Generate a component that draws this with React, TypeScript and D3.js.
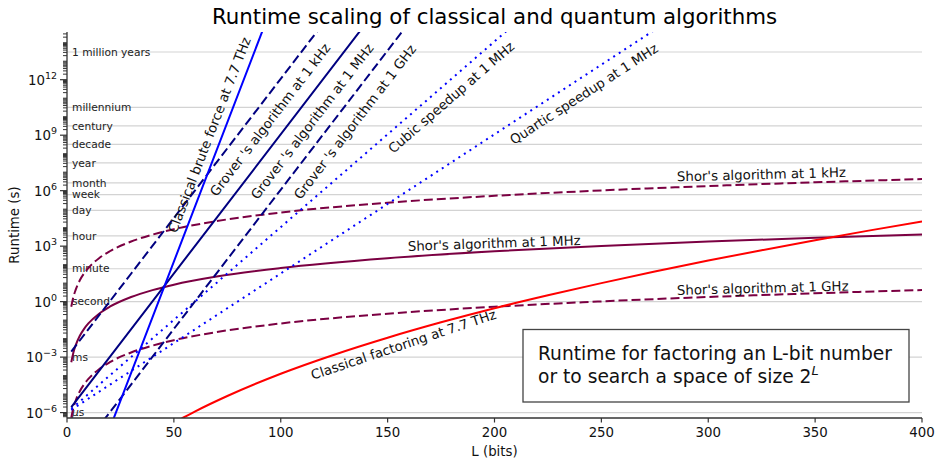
import React from "react";
import * as d3 from "d3";

const width = 937;
const height = 462;
const margin = { top: 32, right: 15, bottom: 44, left: 67 };
const font = "'DejaVu Sans', sans-serif";

// Shor's algorithm (runtime in seconds vs L bits)
const shorBits = [2, 3, 4, 6, 8, 10, 15, 20, 30, 40, 50, 70, 100, 150, 200, 250, 300, 350, 400];
const shorKHz = [0.53, 1.8, 4.2, 14.3, 33.8, 66, 223, 530, 1780, 4200, 8250, 22600, 66000, 223000, 528000, 1.03e6, 1.78e6, 2.83e6, 4.22e6];
const shorMHz = [5.3e-4, 1.8e-3, 4.2e-3, 1.43e-2, 3.38e-2, 6.6e-2, 0.223, 0.53, 1.78, 4.2, 8.25, 22.6, 66, 223, 528, 1030, 1780, 2830, 4220];
const shorGHz = [5.3e-7, 1.8e-6, 4.2e-6, 1.43e-5, 3.38e-5, 6.6e-5, 2.23e-4, 5.3e-4, 1.78e-3, 4.2e-3, 8.25e-3, 2.26e-2, 6.6e-2, 0.223, 0.528, 1.03, 1.78, 2.83, 4.22];

// classical factoring
const factoringBits = [52, 55, 60, 75, 100, 125, 150, 175, 200, 225, 250, 275, 300, 325, 350, 375, 400];
const factoringTHz = [3.7e-7, 5.8e-7, 1.17e-6, 7.9e-6, 1.26e-4, 1.35e-3, 1.12e-2, 7.6e-2, 0.44, 2.19, 10, 42.7, 166, 603, 2090, 6900, 21900];

// search (straight on a log axis)
const bruteBits = [20, 60, 100];
const bruteTHz = [1.36e-7, 1.5e5, 1.65e17];
const groverKHzBits = [2, 60, 120];
const groverKHz = [2e-3, 1.07e6, 1.15e15];
const groverMHzBits = [2, 70, 140];
const groverMHz = [2e-6, 3.4e4, 1.18e15];
const groverGHzBits = [2, 80, 160];
const groverGHz = [2e-9, 1.1e3, 1.21e15];
const cubicBits = [2, 105, 210];
const cubicMHz = [1.59e-6, 3.4e4, 1.18e15];
const quarticBits = [2, 140, 280];
const quarticMHz = [1.41e-6, 3.4e4, 1.18e15];

const timeLabels = ["µs", "ms", "second", "minute", "hour", "day", "week", "month", "year", "decade", "century", "millennium", "1 million years"];
const timeValues = [1e-6, 1e-3, 1, 60, 3600, 86400, 604800, 2.63e6, 3.156e7, 3.156e8, 3.156e9, 3.156e10, 3.156e13];

const xTicks = [0, 50, 100, 150, 200, 250, 300, 350, 400];
const yTickExponents = [-6, -3, 0, 3, 6, 9, 12];

const SHOR = "#7b0042";
const NAVY = "#000080";
const BLUE = "#0000ff";
const RED = "#ff0000";
const DASH = "9,4";
const DOT = "2,4.6";

const series = [
  { bits: shorBits, vals: shorKHz, color: SHOR, dash: DASH },
  { bits: shorBits, vals: shorMHz, color: SHOR, dash: null },
  { bits: shorBits, vals: shorGHz, color: SHOR, dash: DASH },
  { bits: factoringBits, vals: factoringTHz, color: RED, dash: null },
  { bits: cubicBits, vals: cubicMHz, color: BLUE, dash: DOT },
  { bits: quarticBits, vals: quarticMHz, color: BLUE, dash: DOT },
  { bits: groverKHzBits, vals: groverKHz, color: NAVY, dash: DASH },
  { bits: groverMHzBits, vals: groverMHz, color: NAVY, dash: null },
  { bits: groverGHzBits, vals: groverGHz, color: NAVY, dash: DASH },
  { bits: bruteBits, vals: bruteTHz, color: BLUE, dash: null },
];

// line labels: text, L, runtime at baseline start, rotation, nudge off the line
const labelTexts = [
  "Classical brute force at 7.7 THz",
  "Grover 's algorithm at 1 kHz",
  "Grover 's algorithm at 1 MHz",
  "Grover 's algorithm at 1 GHz",
  "Cubic speedup at 1 MHz",
  "Quartic speedup at 1 MHz",
  "Shor's algorithm at 1 kHz",
  "Shor's algorithm at 1 MHz",
  "Shor's algorithm at 1 GHz",
  "Classical factoring at 7.7 THz",
];
const labelBits = [53.8, 67.4, 86.5, 106.7, 151.1, 207.7, 285.4, 159.5, 285.4, 115];
const labelTimes = [3550, 7.6e5, 5.1e5, 5.1e5, 1.55e8, 4.9e8, 3.2e6, 550, 2.3, 5.9e-5];
const labelAngles = [-69, -52.5, -52.5, -52.5, -41, -33, -1.5, -2, -1.5, -18.5];
const labelNudge = [-6, 7, 7, 7, 5, 5, 0, 0, 0, 0];

export default function App() {
  const x = d3.scaleLinear().domain([0, 400]).range([margin.left, width - margin.right]);
  const y = d3.scaleLog().domain([5.1e-7, 3.8e14]).range([height - margin.bottom, margin.top]);
  const x0 = margin.left;
  const x1 = width - margin.right;
  const yb = height - margin.bottom;

  const minor: number[] = [];
  for (let k = -7; k <= 14; k++) {
    for (let d = 1; d <= 9; d++) {
      const v = d * Math.pow(10, k);
      if (d === 1 && k % 3 === 0) continue;
      if (v >= 5.1e-7 && v <= 3.8e14) minor.push(v);
    }
  }

  const line = d3
    .line<[number, number]>()
    .x((d) => x(d[0]))
    .y((d) => y(d[1]))
    .curve(d3.curveMonotoneX);

  return (
    <svg width={width} height={height} style={{ position: "absolute", left: 0, top: 0, background: "#fff" }} fontFamily={font}>
      <defs>
        <clipPath id="plot">
          <rect x={x0} y={margin.top} width={x1 - x0} height={yb - margin.top} />
        </clipPath>
      </defs>

      <text x={(x0 + x1) / 2} y={24} textAnchor="middle" fontSize={21.33} fill="#000">
        Runtime scaling of classical and quantum algorithms
      </text>

      {/* time gridlines */}
      {timeValues.map((v, i) => (
        <g key={"g" + i}>
          <line x1={x0} x2={x1} y1={y(v)} y2={y(v)} stroke="#d3d3d3" strokeWidth={1.2} />
          <text x={x0 + 5} y={y(v)} dy="0.35em" fontSize={10.67} fill="#222">
            {timeLabels[i] === "µs" ? (
              <>
                <tspan fontStyle="italic">µ</tspan>s
              </>
            ) : (
              timeLabels[i]
            )}
          </text>
        </g>
      ))}

      <g clipPath="url(#plot)">
        {series.map((s, i) => (
          <path
            key={"s" + i}
            d={line(s.bits.map((b, j) => [b, s.vals[j]] as [number, number])) || ""}
            fill="none"
            stroke={s.color}
            strokeWidth={2}
            strokeDasharray={s.dash || undefined}
          />
        ))}
      </g>

      {labelTexts.map((t, i) => (
        <text
          key={"l" + i}
          transform={`translate(${x(labelBits[i])},${y(labelTimes[i])}) rotate(${labelAngles[i]})`}
          dy={labelNudge[i]}
          fontSize={13.33}
          fill="#111"
        >
          {t}
        </text>
      ))}

      {/* axes */}
      <line x1={x0} x2={x0} y1={margin.top} y2={yb} stroke="#333" strokeWidth={1.3} />
      <line x1={x0} x2={x1} y1={yb} y2={yb} stroke="#333" strokeWidth={1.3} />
      {minor.map((v, i) => (
        <line key={"m" + i} x1={x0 - 4} x2={x0} y1={y(v)} y2={y(v)} stroke="#333" strokeWidth={1} />
      ))}
      {yTickExponents.map((e) => (
        <g key={"y" + e}>
          <line x1={x0 - 7} x2={x0} y1={y(Math.pow(10, e))} y2={y(Math.pow(10, e))} stroke="#333" strokeWidth={1.2} />
          <text x={x0 - 10} y={y(Math.pow(10, e)) + 5} textAnchor="end" fontSize={13.33} fill="#111">
            10
            <tspan dy={-6} fontSize={9.5}>
              {e < 0 ? "\u2212" + Math.abs(e) : String(e)}
            </tspan>
          </text>
        </g>
      ))}
      {xTicks.map((t) => (
        <g key={"x" + t}>
          <line x1={x(t)} x2={x(t)} y1={yb} y2={yb + 4.5} stroke="#333" strokeWidth={1.2} />
          <text x={x(t)} y={yb + 19} textAnchor="middle" fontSize={13.33} fill="#111">
            {t}
          </text>
        </g>
      ))}
      <text x={(x0 + x1) / 2} y={456} textAnchor="middle" fontSize={13.33} fill="#111">
        L (bits)
      </text>
      <text transform={`translate(19,${(margin.top + yb) / 2}) rotate(-90)`} textAnchor="middle" fontSize={13.33} fill="#111">
        Runtime (s)
      </text>

      {/* note box */}
      <rect x={523} y={329.5} width={386} height={72.5} fill="#fff" stroke="#444" strokeWidth={1.3} />
      <text x={538} y={359.5} fontSize={18.67} fill="#111">
        Runtime for factoring an L-bit number
      </text>
      <text x={538} y={383} fontSize={18.67} fill="#111">
        or to search a space of size 2
        <tspan dy={-8} fontSize={13} fontStyle="italic">
          L
        </tspan>
      </text>
    </svg>
  );
}
